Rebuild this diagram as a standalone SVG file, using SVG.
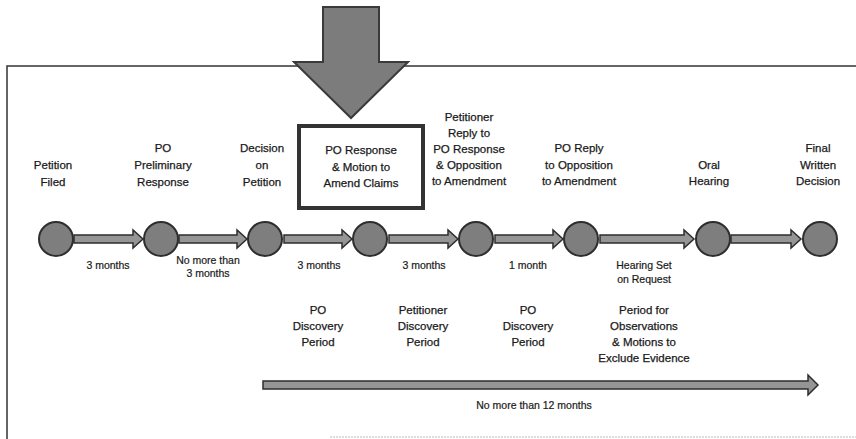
<svg xmlns="http://www.w3.org/2000/svg" width="856" height="439" viewBox="0 0 856 439">
<style>
.t{font-family:"Liberation Sans",Arial,sans-serif;font-size:11.5px;fill:#1a1a1a;stroke:#1a1a1a;stroke-width:0.25;text-anchor:middle}
.s{font-family:"Liberation Sans",Arial,sans-serif;font-size:10.5px;fill:#1a1a1a;stroke:#1a1a1a;stroke-width:0.2;text-anchor:middle}
.node{fill:#7e7e7e;stroke:#2e2e2e;stroke-width:2}
.arr{fill:#959595;stroke:#2e2e2e;stroke-width:1.5;stroke-linejoin:miter}
.frame{fill:none;stroke:#333;stroke-width:1.5}
</style>
<rect width="856" height="439" fill="#fff"/>
<g id="frame">
<polyline class="frame" points="7,439 7,66 856,66"/>
<line x1="330" y1="437" x2="856" y2="437" stroke="#bbb" stroke-width="1" stroke-dasharray="2,1"/>
</g>
<g id="big-arrow">
<polygon points="323,7 379,7 379,62 408,62 351,118 294,62 323,62" fill="#7c7c7c" stroke="#3a3a3a" stroke-width="2"/>
</g>
<g id="connectors">
<path class="arr" d="M74,235 H133 V230 L143,239 L133,248 V243 H74 Z"/>
<path class="arr" d="M179,235 H237 V230 L247,239 L237,248 V243 H179 Z"/>
<path class="arr" d="M284,235 H342 V230 L352,239 L342,248 V243 H284 Z"/>
<path class="arr" d="M389,235 H448 V230 L458,239 L448,248 V243 H389 Z"/>
<path class="arr" d="M495,235 H553 V230 L563,239 L553,248 V243 H495 Z"/>
<path class="arr" d="M600,235 H684 V230 L694,239 L684,248 V243 H600 Z"/>
<path class="arr" d="M731,235 H791 V230 L801,239 L791,248 V243 H731 Z"/>
<path class="arr" d="M263,381 H808 V375 L818,385 L808,395 V389 H263 Z"/>
</g>
<g id="n1"><circle class="node" cx="56" cy="239" r="17"/>
<text class="t" x="53" y="169">Petition</text><text class="t" x="53" y="186">Filed</text></g>
<g id="n2"><circle class="node" cx="161" cy="239" r="17"/>
<text class="t" x="163" y="152">PO</text><text class="t" x="163" y="169">Preliminary</text><text class="t" x="163" y="186">Response</text></g>
<g id="n3"><circle class="node" cx="265" cy="239" r="17"/>
<text class="t" x="262" y="152">Decision</text><text class="t" x="262" y="169">on</text><text class="t" x="262" y="186">Petition</text></g>
<g id="n4"><circle class="node" cx="370" cy="239" r="17"/>
<rect x="299" y="126" width="124" height="82" fill="none" stroke="#333" stroke-width="4"/>
<text class="t" x="361" y="154">PO Response</text><text class="t" x="361" y="171">&amp; Motion to</text><text class="t" x="361" y="187">Amend Claims</text></g>
<g id="n5"><circle class="node" cx="476" cy="239" r="17"/>
<text class="t" x="469" y="121">Petitioner</text><text class="t" x="469" y="137">Reply to</text><text class="t" x="469" y="153">PO Response</text><text class="t" x="469" y="169">&amp; Opposition</text><text class="t" x="469" y="185">to Amendment</text></g>
<g id="n6"><circle class="node" cx="581" cy="239" r="17"/>
<text class="t" x="579" y="152">PO Reply</text><text class="t" x="579" y="169">to Opposition</text><text class="t" x="579" y="185">to Amendment</text></g>
<g id="n7"><circle class="node" cx="713" cy="239" r="17"/>
<text class="t" x="709" y="169">Oral</text><text class="t" x="709" y="185">Hearing</text></g>
<g id="n8"><circle class="node" cx="820" cy="239" r="17"/>
<text class="t" x="818" y="152">Final</text><text class="t" x="818" y="169">Written</text><text class="t" x="818" y="185">Decision</text></g>
<g id="labels">
<text class="s" x="108" y="269">3 months</text>
<text class="s" x="208" y="264">No more than</text><text class="s" x="208" y="277">3 months</text>
<text class="s" x="319" y="269">3 months</text>
<text class="s" x="424" y="269">3 months</text>
<text class="s" x="528" y="269">1 month</text>
<text class="s" x="644" y="269">Hearing Set</text><text class="s" x="644" y="283">on Request</text>
<text class="t" x="318" y="314">PO</text><text class="t" x="318" y="330">Discovery</text><text class="t" x="318" y="346">Period</text>
<text class="t" x="423" y="314">Petitioner</text><text class="t" x="423" y="330">Discovery</text><text class="t" x="423" y="346">Period</text>
<text class="t" x="528" y="314">PO</text><text class="t" x="528" y="330">Discovery</text><text class="t" x="528" y="346">Period</text>
<text class="t" x="644" y="314">Period for</text><text class="t" x="644" y="330">Observations</text><text class="t" x="644" y="346">&amp; Motions to</text><text class="t" x="644" y="362">Exclude Evidence</text>
<text class="s" x="534" y="409">No more than 12 months</text>
</g>
</svg>
